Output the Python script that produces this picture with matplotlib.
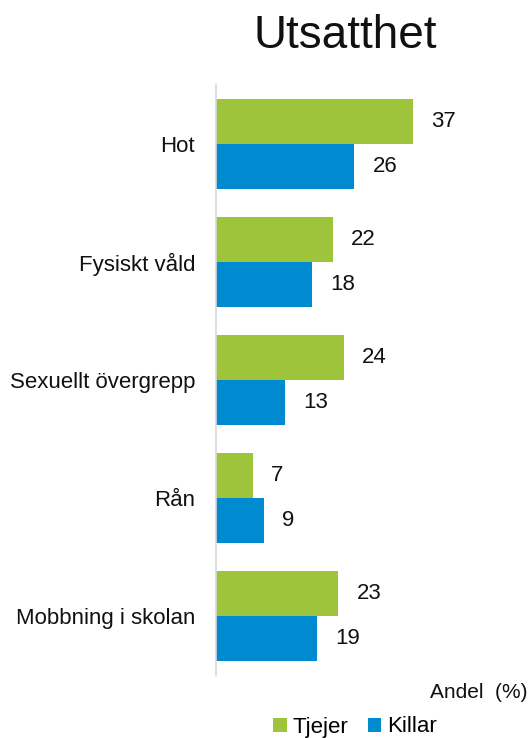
import numpy as np
import matplotlib.pyplot as plt

plt.rcParams['font.family'] = ['Liberation Sans', 'DejaVu Sans']

categories = ["Hot", "Fysiskt våld", "Sexuellt övergrepp", "Rån", "Mobbning i skolan"]
tjejer = [37, 22, 24, 7, 23]
killar = [26, 18, 13, 9, 19]

green = "#9DC43B"
blue = "#008BD0"

fig = plt.figure(figsize=(5.32, 7.38), dpi=100)
ax = fig.add_axes([216/532, 1 - 675/738, 0.5, 590/738])

y = np.arange(len(categories))
h = 0.38
b1 = ax.barh(y - h/2, tjejer, height=h, color=green, label="Tjejer")
b2 = ax.barh(y + h/2, killar, height=h, color=blue, label="Killar")

# value labels to the right of each bar
for bars, vals in ((b1, tjejer), (b2, killar)):
    for bar, v in zip(bars, vals):
        ax.text(bar.get_width() + 3.4, bar.get_y() + bar.get_height()/2, str(v),
                va="center", ha="left", fontsize=16, color="#111111")

ax.set_ylim(4.5, -0.5)
ax.set_xlim(0, 50)
ax.set_yticks(y)
ax.set_yticklabels(categories, fontsize=16, color="#111111")
ax.tick_params(axis="y", length=0, pad=15)
ax.set_xticks([])
for s in ("top", "right", "bottom"):
    ax.spines[s].set_visible(False)
ax.spines["left"].set_color("#D9D9D9")
ax.spines["left"].set_linewidth(1.2)

fig.text(345/532, 1 - 36/738, "Utsatthet", ha="center", va="center", fontsize=33, color="#111111")
fig.text(528/532, 1 - 692/738, "Andel  (%)", ha="right", va="center", fontsize=15, color="#111111")

fig.legend(handles=[b1, b2], loc="center", bbox_to_anchor=(355/532, 1 - 727/738),
           ncol=2, frameon=False, fontsize=16, handlelength=0.6, handleheight=0.6,
           handletextpad=0.25, columnspacing=0.9, borderpad=0)

fig.savefig("out.png", dpi=100)
